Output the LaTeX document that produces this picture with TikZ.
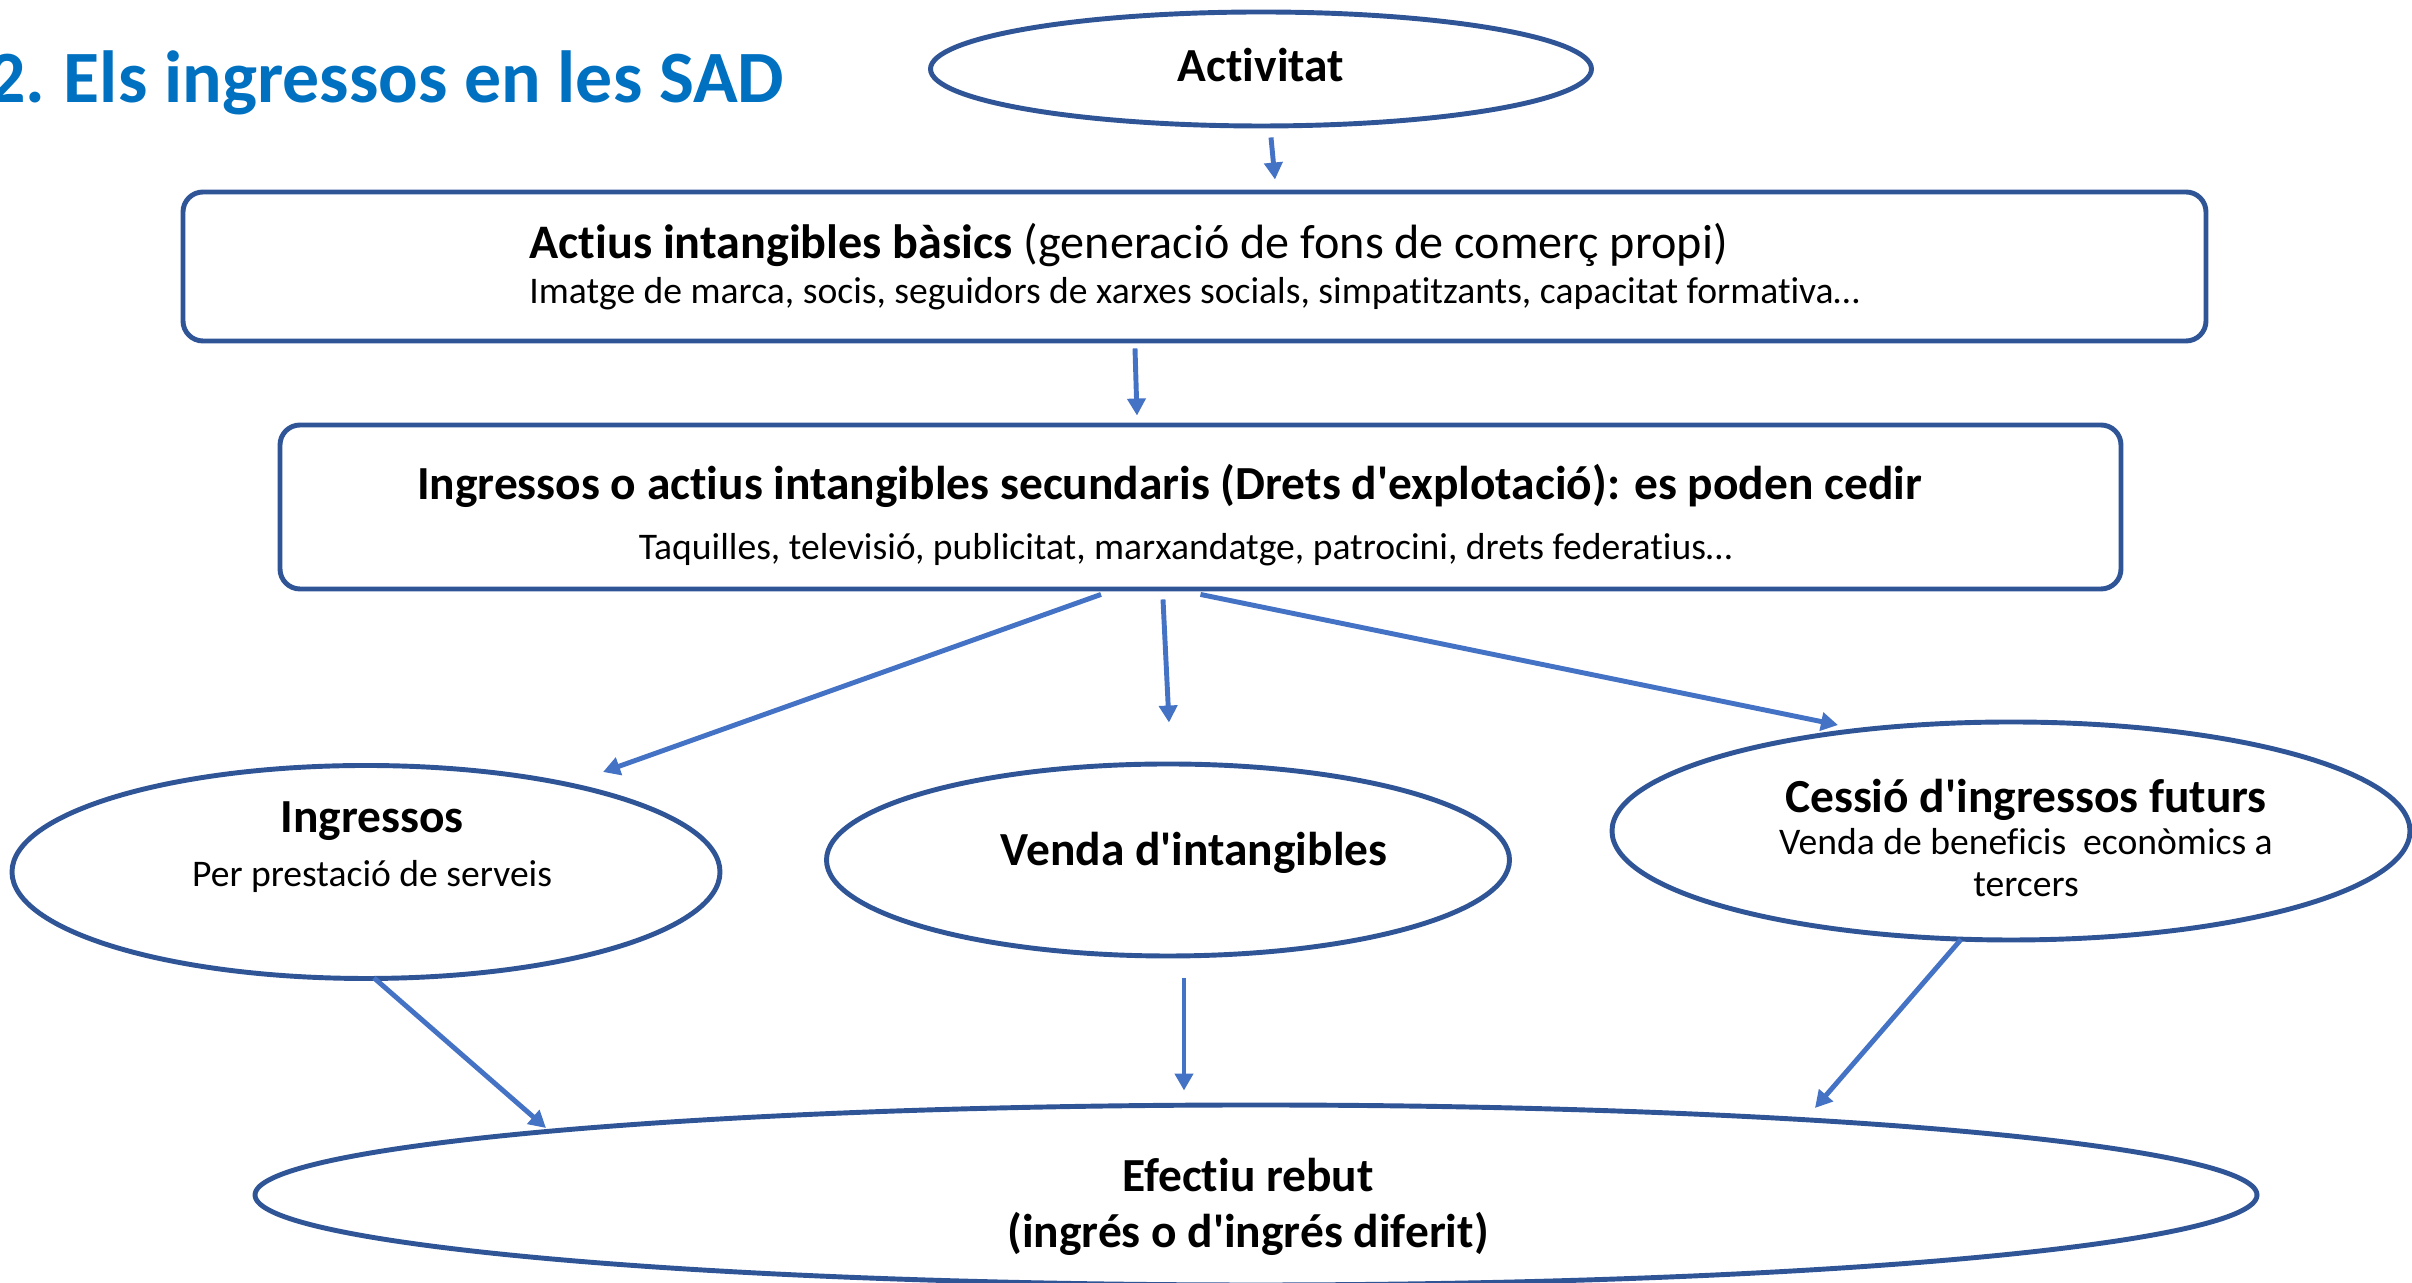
\documentclass[tikz,border=0pt]{standalone}
\usepackage{fontspec}
\setmainfont{Carlito}[Ligatures={CommonOff,TeXOff}]
\usetikzlibrary{arrows.meta, positioning, shapes.geometric, shapes.misc}
\definecolor{titleblue}{RGB}{0,112,192}
\definecolor{darkblue}{RGB}{47,85,151}
\definecolor{arrowblue}{RGB}{68,114,196}
\newcommand{\bigsize}{\fontsize{13.5}{16.5}\selectfont}
\newcommand{\smallsize}{\fontsize{10.7}{12.8}\selectfont}

\begin{document}
\begin{tikzpicture}
    % Define styles
    \tikzstyle{oval} = [ellipse, draw=darkblue, line width=1.4pt,
                        fill=white, inner sep=0pt, align=center]
    \tikzstyle{block} = [rectangle, rounded corners=0.2cm, draw=darkblue,
                         line width=1.4pt, fill=white, inner sep=0pt]
    \tikzstyle{arrow} = [arrowblue, line width=1.4pt,
                         -{Triangle[length=0.17cm, width=0.18cm]}]

    \useasboundingbox (0,0) rectangle (24.12,-12.83);

    % Title
    \node[anchor=base east, inner sep=0pt, text=titleblue,
          font=\fontsize{21}{25}\selectfont\bfseries]
        (title) at (7.85,-1.03) {2.\hspace{-1.1pt} Els ingressos en les SAD};

    % Create blocks
    \node[oval, minimum width=6.61cm, minimum height=1.14cm, font=\bigsize\bfseries]
        (act) at (12.61,-0.69) {Activitat\rule[-2.6pt]{0pt}{0pt}};
    \node[block, minimum width=20.23cm, minimum height=1.49cm, align=left]
        (basic) at (11.945,-2.665)
        {\fontsize{13.7}{16.5}\selectfont\textbf{Actius intangibles bàsics} (generació de fons de comerç propi)\\[1pt]
         \smallsize Imatge de marca, socis, seguidors de xarxes socials, simpatitzants, capacitat formativa…};
    \node[block, minimum width=18.41cm, minimum height=1.64cm, align=center]
        (second) at (12.005,-5.07)
        {\bigsize\rule{0pt}{14.5pt}\textbf{Ingressos o actius intangibles secundaris (Drets d'explotació): es poden cedir}\hspace*{0.62cm}\\[5pt]
         \smallsize Taquilles, televisió, publicitat, marxandatge, patrocini, drets federatius…\hspace*{0.3cm}};

    \node[oval, minimum width=7.08cm, minimum height=2.13cm, inner ysep=-3pt]
        (ing) at (3.66,-8.72)
        {\bigsize\hspace*{0.12cm}\textbf{Ingressos}\\[3.5pt]
         \smallsize\hspace*{0.12cm}Per prestació de serveis\rule[-16pt]{0pt}{0pt}};
    \node[oval, minimum width=6.83cm, minimum height=1.92cm, font=\bigsize\bfseries]
        (venda) at (11.68,-8.6) {\hspace*{0.52cm}Venda d'intangibles\rule[-6.5pt]{0pt}{0pt}};
    \node[oval, minimum width=7.98cm, minimum height=2.18cm]
        (cessio) at (20.11,-8.31)
        {\bigsize\hspace*{0.3cm}\rule{0pt}{13.5pt}\textbf{Cessió d'ingressos futurs}\\
         \smallsize\hspace*{0.3cm}Venda de beneficis\ \ econòmics a\\
         \smallsize\hspace*{0.3cm}tercers};

    \node[oval, minimum width=20.02cm, minimum height=1.8cm, font=\bigsize\bfseries]
        (efect) at (12.56,-11.95)
        {\rule{0pt}{16.2pt}Efectiu rebut\hspace*{0.16cm}\\[-0.5pt](ingrés o d'ingrés diferit)\hspace*{0.16cm}};

    % Draw arrows
    \draw[arrow] ([shift={(0.1,-0.09)}]act.south) -- ([shift={(0.805,0.1)}]basic.north);
    \draw[arrow] ([shift={(-0.595,-0.05)}]basic.south) -- ([shift={(-0.635,0.07)}]second.north);
    \draw[arrow] ([shift={(-0.995,-0.03)}]second.south) -- ([shift={(2.37,1.0)}]ing.center);
    \draw[arrow] ([shift={(-0.375,-0.08)}]second.south) -- ([shift={(0.01,0.39)}]venda.north);
    \draw[arrow] ([shift={(0,-0.03)}]second.south) -- ([shift={(-1.73,1.06)}]cessio.center);
    \draw[arrow] ([shift={(0.08,0.03)}]ing.south) -- ([shift={(-7.1,0.67)}]efect.center);
    \draw[arrow] ([shift={(0.16,-0.2)}]venda.south) -- ([shift={(-0.72,0.12)}]efect.north);
    \draw[arrow] ([shift={(-0.5,0.03)}]cessio.south) -- ([shift={(5.59,0.87)}]efect.center);
\end{tikzpicture}
\end{document}
